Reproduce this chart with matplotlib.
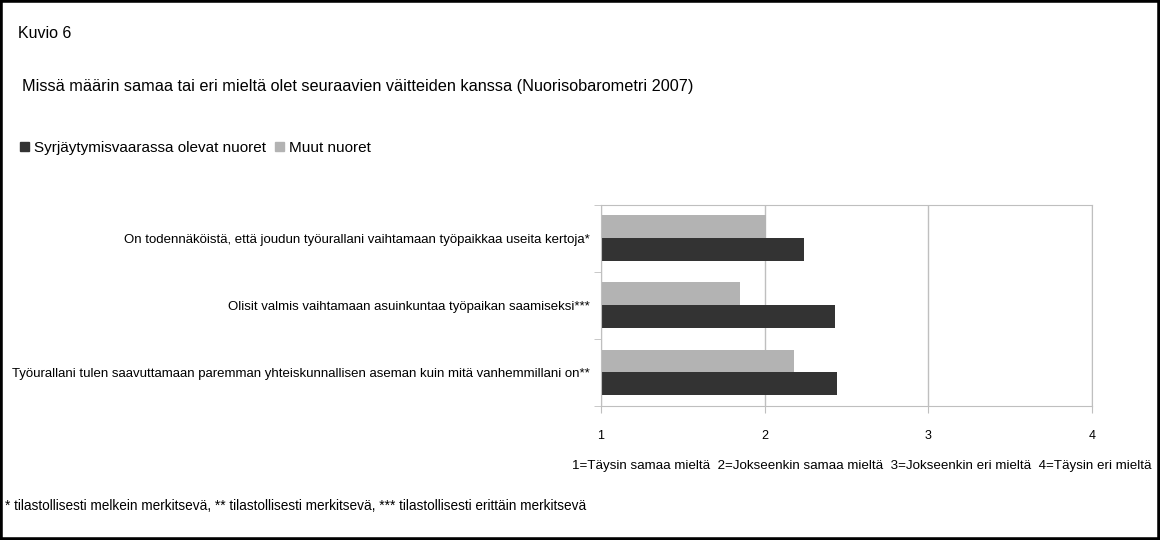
import matplotlib.pyplot as plt
from matplotlib.patches import Rectangle, Patch

# data (bottom to top on the chart)
statements = [
    "Työurallani tulen saavuttamaan paremman yhteiskunnallisen aseman kuin mitä vanhemmillani on**",
    "Olisit valmis vaihtamaan asuinkuntaa työpaikan saamiseksi***",
    "On todennäköistä, että joudun työurallani vaihtamaan työpaikkaa useita kertoja*",
]
risk_youth = [2.44, 2.43, 2.24]
other_youth = [2.18, 1.85, 2.01]
series_names = ["Syrjäytymisvaarassa olevat nuoret", "Muut nuoret"]
x_ticks = [1, 2, 3, 4]
scale_label = ("1=Täysin samaa mieltä  2=Jokseenkin samaa mieltä  "
               "3=Jokseenkin eri mieltä  4=Täysin eri mieltä")

plt.rcParams['font.family'] = ['Liberation Sans Narrow', 'Liberation Sans', 'DejaVu Sans']

dark = '#333333'
light = '#b3b3b3'
frame = '#bfbfbf'

fig = plt.figure(figsize=(11.6, 5.4), dpi=100)
ax = fig.add_axes([601 / 1160, 1 - 406 / 540, 491 / 1160, 201.5 / 540])

y = range(len(statements))
h = 0.34
ax.barh([i - 0.17 for i in y], [v - 1 for v in risk_youth], left=1, height=h, color=dark)
ax.barh([i + 0.17 for i in y], [v - 1 for v in other_youth], left=1, height=h, color=light)

ax.set_xlim(1, 4)
ax.set_ylim(-0.5, len(statements) - 0.5)
ax.set_xticks(x_ticks)
ax.set_xticklabels([str(t) for t in x_ticks], fontsize=9)
ax.tick_params(axis='x', length=5, color=frame, pad=12)
ax.set_yticks(list(y))
ax.set_yticklabels(statements, fontsize=9.5)
ax.tick_params(axis='y', which='major', length=0, pad=8)
ax.set_yticks([i - 0.5 for i in range(len(statements) + 1)], minor=True)
ax.tick_params(axis='y', which='minor', length=5, color=frame)
ax.grid(axis='x', color=frame, linewidth=1)
ax.set_axisbelow(True)
for s in ax.spines.values():
    s.set_color(frame)

fig.text(1152 / 1160, 1 - 466 / 540, scale_label, ha='right', va='center', fontsize=9.6)

fig.text(18 / 1160, 1 - 34 / 540, "Kuvio 6", ha='left', va='center', fontsize=11.5)
fig.text(22 / 1160, 1 - 87 / 540,
         "Missä määrin samaa tai eri mieltä olet seuraavien väitteiden kanssa (Nuorisobarometri 2007)",
         ha='left', va='center', fontsize=11.7)

handles = [Patch(color=dark), Patch(color=light)]
fig.legend(handles, series_names, loc='center left', bbox_to_anchor=(20 / 1160, 1 - 148 / 540),
           ncol=2, frameon=False, fontsize=11, handlelength=0.6, handleheight=0.6,
           handletextpad=0.3, columnspacing=0.6, borderpad=0, borderaxespad=0)

fig.text(5 / 1160, 1 - 506 / 540,
         "* tilastollisesti melkein merkitsevä, ** tilastollisesti merkitsevä, *** tilastollisesti erittäin merkitsevä",
         ha='left', va='center', fontsize=9.8)

fig.add_artist(Rectangle((0, 0), 1, 1, transform=fig.transFigure, fill=False,
                         edgecolor='black', linewidth=4))

fig.savefig('out.png', dpi=100)
